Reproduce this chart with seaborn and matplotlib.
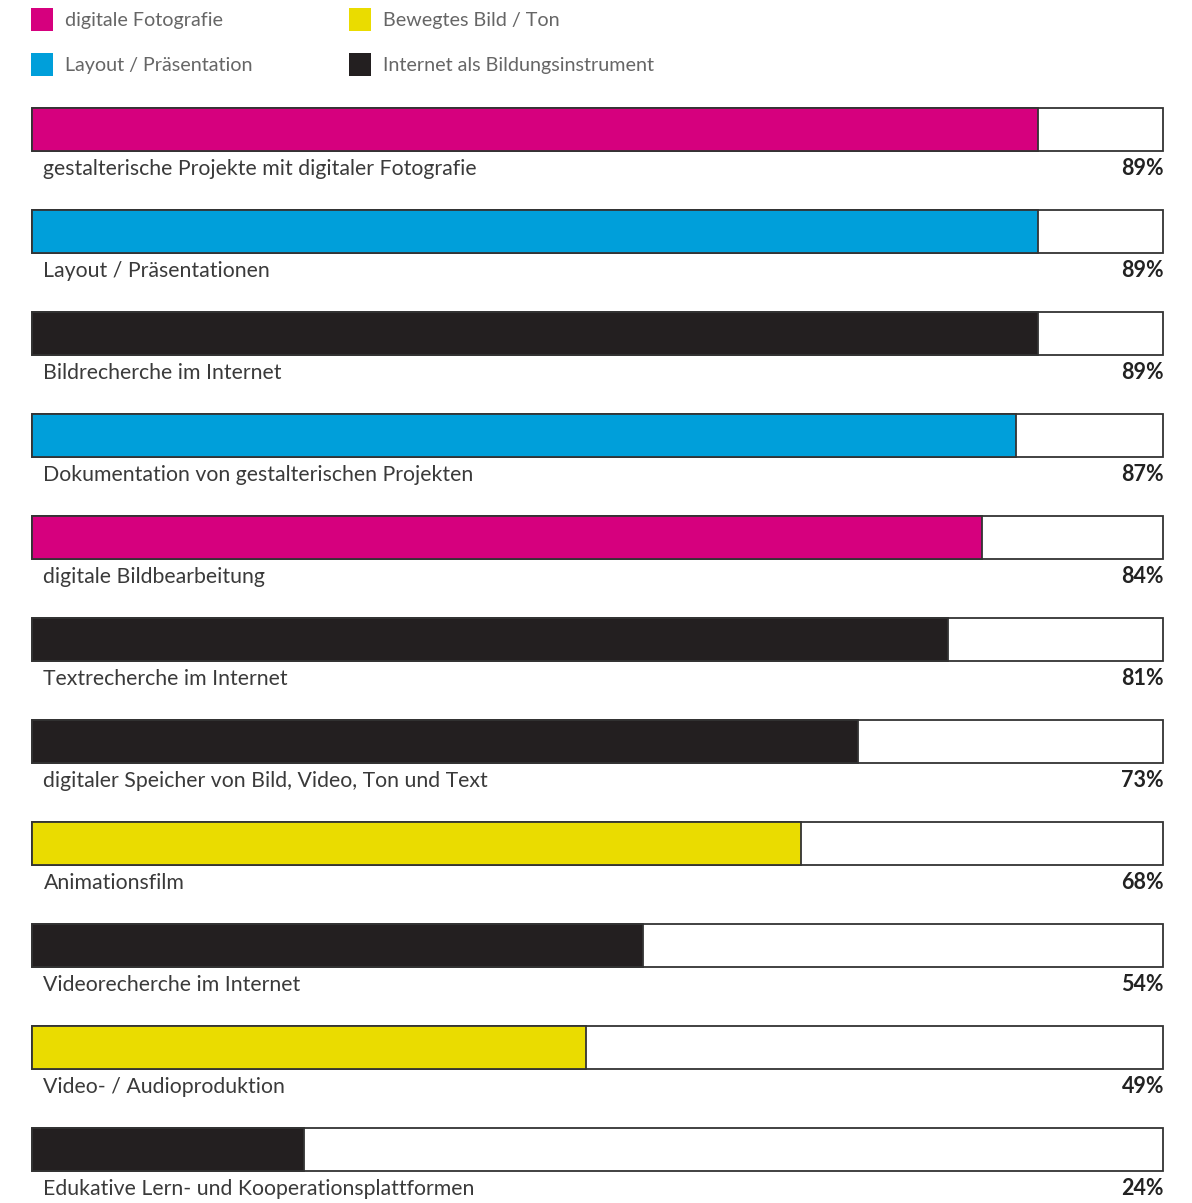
import matplotlib
matplotlib.use("Agg")
import pandas as pd
import matplotlib.pyplot as plt
import seaborn as sns
from matplotlib.patches import Patch


labels = [
    "gestalterische Projekte mit digitaler Fotografie",
    "Layout / Präsentationen",
    "Bildrecherche im Internet",
    "Dokumentation von gestalterischen Projekten",
    "digitale Bildbearbeitung",
    "Textrecherche im Internet",
    "digitaler Speicher von Bild, Video, Ton und Text",
    "Animationsfilm",
    "Videorecherche im Internet",
    "Video- / Audioproduktion",
    "Edukative Lern- und Kooperationsplattformen",
]
values = [89, 89, 89, 87, 84, 81, 73, 68, 54, 49, 24]
groups = [
    "digitale Fotografie",
    "Layout / Präsentation",
    "Internet als Bildungsinstrument",
    "Layout / Präsentation",
    "digitale Fotografie",
    "Internet als Bildungsinstrument",
    "Internet als Bildungsinstrument",
    "Bewegtes Bild / Ton",
    "Internet als Bildungsinstrument",
    "Bewegtes Bild / Ton",
    "Internet als Bildungsinstrument",
]
group_names = ["digitale Fotografie", "Layout / Präsentation",
               "Bewegtes Bild / Ton", "Internet als Bildungsinstrument"]
group_colors = ["#D6007E", "#009FDA", "#EADC00", "#231F20"]


def plot_chart():
    sns.set_style("white")
    plt.rcParams['font.family'] = ['Lato', 'DejaVu Sans']

    df = pd.DataFrame({"label": labels, "value": values, "group": groups})
    df["full"] = 100
    palette = dict(zip(group_names, group_colors))

    fig = plt.figure(figsize=(11.92, 12.03), dpi=100)
    ax = fig.add_axes([31 / 1192, 0, (1164 - 31) / 1192, 1])

    # background track (100%)
    sns.barplot(data=df, x="full", y="label", color="white", edgecolor="#333333",
                linewidth=1.3, width=0.42, orient="h", ax=ax, saturation=1)
    sns.barplot(data=df, x="value", y="label", hue="group", hue_order=group_names,
                palette=palette, dodge=False, width=0.42, orient="h",
                edgecolor="#333333", linewidth=1.3, legend=False, ax=ax, saturation=1)

    for i, (lab, v) in enumerate(zip(labels, values)):
        ax.text(1.0, i + 0.385, lab, ha="left", va="center",
                fontsize=15.3, color="#3a3a3a")
        ax.text(100.1, i + 0.385, f"{v}%", ha="right", va="center",
                fontsize=15.5, fontweight="bold", color="#222222")

    ax.set_xlim(-0.1, 100.1)
    ax.set_ylim(10.525, -1.270)
    ax.set_axis_off()

    handles = [Patch(facecolor=c, edgecolor="none") for c in group_colors]
    fig.legend(handles, group_names, ncol=2, loc="upper left",
               bbox_to_anchor=(31 / 1192, 1 - 8 / 1203), frameon=False,
               fontsize=14.2, labelcolor="#666666",
               borderpad=0, borderaxespad=0,
               handlelength=1.12, handleheight=1.4, handletextpad=0.6,
               labelspacing=1.15, columnspacing=4.9)

    fig.savefig("out.png", dpi=100)
    plt.close(fig)


def main():
    plot_chart()


if __name__ == "__main__":
    main()
